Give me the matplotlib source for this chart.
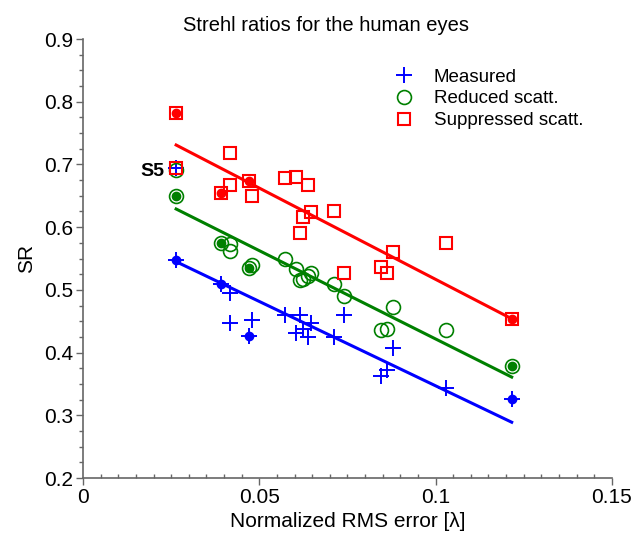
import numpy as np
import matplotlib
matplotlib.use('Agg')
import matplotlib.pyplot as plt
from matplotlib.ticker import MultipleLocator, FixedLocator

plt.rcParams['font.family'] = ['Liberation Sans', 'DejaVu Sans']

# normalized RMS error for each eye (same for all three series)
rms = [0.0264, 0.0264, 0.0392, 0.0418, 0.0418, 0.0472, 0.0480, 0.0574, 0.0605, 0.0616,
       0.0625, 0.0639, 0.0648, 0.0713, 0.0739, 0.0844, 0.0863, 0.0878, 0.1031, 0.1216]

sr_measured = [0.548, 0.694, 0.509, 0.495, 0.447, 0.426, 0.452, 0.460, 0.431, 0.460,
               0.438, 0.425, 0.447, 0.425, 0.460, 0.363, 0.372, 0.407, 0.344, 0.326]
sr_reduced = [0.650, 0.691, 0.575, 0.573, 0.562, 0.535, 0.540, 0.550, 0.534, 0.516,
              0.518, 0.522, 0.527, 0.509, 0.490, 0.436, 0.438, 0.473, 0.436, 0.379]
sr_suppressed = [0.782, 0.694, 0.655, 0.718, 0.667, 0.674, 0.650, 0.678, 0.680, 0.591,
                 0.616, 0.667, 0.624, 0.626, 0.527, 0.537, 0.527, 0.560, 0.575, 0.454]

# eyes drawn with a filled dot
filled = [0, 2, 5, 19]
s5_index = 1

# regression lines (end points)
fit_x = [0.0264, 0.1216]
fit_measured = [0.545, 0.289]
fit_reduced = [0.629, 0.361]
fit_suppressed = [0.731, 0.454]

rms = np.array(rms)
series = [
    ('Measured', np.array(sr_measured), fit_measured, 'blue', '+', 12, 1.4),
    ('Reduced scatt.', np.array(sr_reduced), fit_reduced, 'green', 'o', 10, 1.2),
    ('Suppressed scatt.', np.array(sr_suppressed), fit_suppressed, 'red', 's', 9, 1.5),
]

fig = plt.figure(figsize=(6.44, 5.42), dpi=100)
ax = fig.add_axes([0.129, 0.118, 0.821, 0.810])

handles = []
for name, sr, fit, color, marker, ms, mew in series:
    h, = ax.plot(rms, sr, linestyle='none', marker=marker, markersize=ms,
                 markerfacecolor='none', markeredgecolor=color, markeredgewidth=mew,
                 label=name, zorder=3)
    handles.append(h)
    ax.plot(rms[filled], sr[filled], linestyle='none', marker='o', markersize=6,
            color=color, zorder=4)
    ax.plot(fit_x, fit, color=color, linewidth=2.2, zorder=2)

ax.text(rms[s5_index] - 0.0033, sr_measured[s5_index] - 0.005, 'S5', fontsize=14,
        fontweight='bold', ha='right', va='center')

ax.set_xlim(0, 0.15)
ax.set_ylim(0.2, 0.9)
ax.xaxis.set_major_locator(FixedLocator([0, 0.05, 0.1, 0.15]))
ax.set_xticklabels(['0', '0.05', '0.1', '0.15'])
ax.xaxis.set_minor_locator(MultipleLocator(0.005))
ax.yaxis.set_major_locator(MultipleLocator(0.1))
ax.set_yticklabels([f'{v:.1f}' for v in ax.get_yticks()])
ax.yaxis.set_minor_locator(MultipleLocator(0.025))

for side in ['top', 'right']:
    ax.spines[side].set_visible(False)
for side in ['left', 'bottom']:
    ax.spines[side].set_color('#666666')
    ax.spines[side].set_linewidth(1.2)
ax.tick_params(which='major', direction='out', length=5, width=1, color='#666666',
               labelsize=15, pad=2)
ax.tick_params(axis='x', which='minor', direction='in', length=3, width=1, color='#666666')
ax.tick_params(axis='y', which='minor', direction='out', length=3, width=1, color='#666666')

ax.set_xlabel('Normalized RMS error [λ]', fontsize=15, labelpad=4)
ax.set_ylabel('SR', fontsize=15, labelpad=6)
ax.set_title('Strehl ratios for the human eyes', fontsize=14.5, pad=6, x=0.46)

ax.legend(handles=handles, loc='upper left', bbox_to_anchor=(0.575, 0.95),
          frameon=False, fontsize=13.5, handlelength=1.0, handletextpad=1.1,
          labelspacing=0.25, borderaxespad=0)

fig.savefig('out.png', dpi=100)
